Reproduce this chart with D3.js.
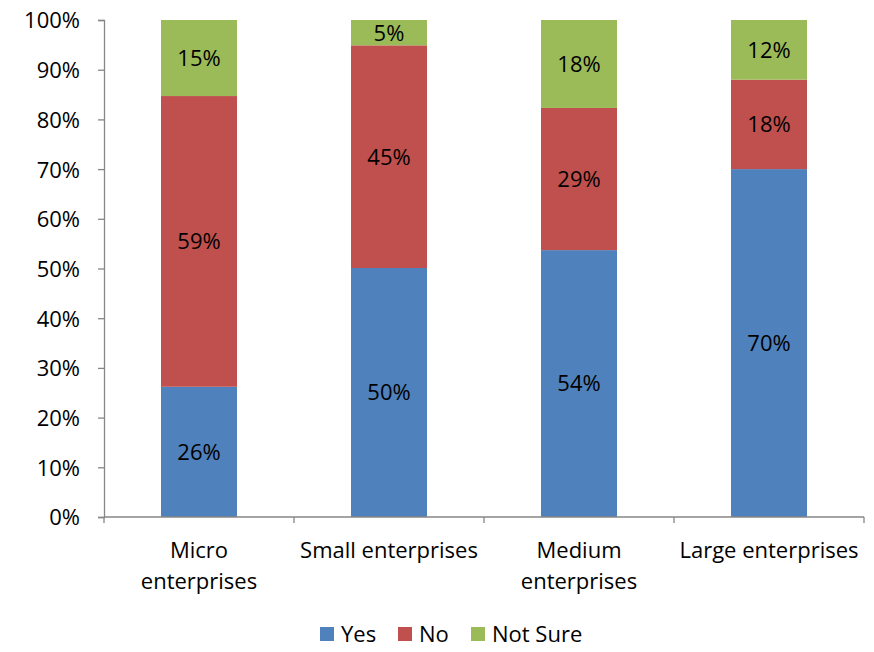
<!DOCTYPE html>
<html>
<head>
<meta charset="utf-8">
<script src="https://cdn.jsdelivr.net/npm/d3@7"></script>
<style>
  body { margin: 0; background: #fff; }
  text { font-family: "Open Sans", "Noto Sans", sans-serif; fill: #000; }
</style>
</head>
<body>
<div id="chart"></div>
<script>
var categories = ["Micro enterprises", "Small enterprises", "Medium enterprises", "Large enterprises"];
var catLines = [["Micro", "enterprises"], ["Small enterprises"], ["Medium", "enterprises"], ["Large enterprises"]];
var seriesKeys = ["Yes", "No", "Not Sure"];
var yesVals = [26.2, 50.1, 53.7, 70.0];
var noVals = [58.5, 44.8, 28.6, 18.0];
var notSureVals = [15.3, 5.1, 17.7, 12.0];
var yTicks = [0, 10, 20, 30, 40, 50, 60, 70, 80, 90, 100];

var color = d3.scaleOrdinal()
    .domain(seriesKeys)
    .range(["#4f81bd", "#c0504d", "#9bbb59"]);

var width = 874, height = 652;
var margin = {left: 104, right: 10, top: 20, bottom: 135};
var fs = "22px";

var rows = categories.map(function(c, i) {
    return {cat: c, "Yes": yesVals[i], "No": noVals[i], "Not Sure": notSureVals[i]};
});

var svg = d3.select("#chart").append("svg")
    .attr("width", width).attr("height", height);

var x = d3.scaleBand()
    .domain(categories)
    .range([margin.left, width - margin.right])
    .paddingInner(0.6)
    .paddingOuter(0.3);

var y = d3.scaleLinear()
    .domain([0, 100])
    .range([height - margin.bottom, margin.top]);

var stack = d3.stack().keys(seriesKeys)(rows);

// bars
var groups = svg.selectAll("g.series")
    .data(stack)
    .enter().append("g")
    .attr("class", "series")
    .attr("fill", function(d) { return color(d.key); });

groups.selectAll("rect")
    .data(function(d) { return d; })
    .enter().append("rect")
    .attr("x", function(d) { return x(d.data.cat); })
    .attr("y", function(d) { return y(d[1]); })
    .attr("width", x.bandwidth())
    .attr("height", function(d) { return y(d[0]) - y(d[1]); });

// labels
groups.selectAll("text")
    .data(function(d) { return d; })
    .enter().append("text")
    .attr("x", function(d) { return x(d.data.cat) + x.bandwidth() / 2; })
    .attr("y", function(d) { return (y(d[0]) + y(d[1])) / 2; })
    .attr("text-anchor", "middle")
    .attr("dy", "0.36em")
    .style("font-size", fs)
    .text(function(d) { return Math.round(d[1] - d[0]) + "%"; });

// y axis
var yAxis = svg.append("g")
    .attr("transform", "translate(" + margin.left + ",0)")
    .call(d3.axisLeft(y).tickValues(yTicks).tickSize(6).tickPadding(18)
        .tickFormat(function(d) { return d + "%"; }));
yAxis.selectAll("text").style("font-size", fs).attr("dy", "0.36em");

// x axis
var xBase = height - margin.bottom;
var xAxis = svg.append("g");
xAxis.append("line")
    .attr("x1", margin.left).attr("x2", width - margin.right)
    .attr("y1", xBase).attr("y2", xBase);
var bounds = categories.map(function(c) { return x(c) - x.step() * x.paddingInner() / 2; });
bounds.push(width - margin.right);
xAxis.selectAll("line.tick")
    .data(bounds)
    .enter().append("line")
    .attr("class", "tick")
    .attr("x1", function(d) { return d; }).attr("x2", function(d) { return d; })
    .attr("y1", xBase).attr("y2", xBase + 6);

svg.selectAll(".domain, .tick line, line").attr("stroke", "#868686").attr("stroke-width", 1.3);

var catText = svg.selectAll("text.cat")
    .data(categories)
    .enter().append("text")
    .attr("class", "cat")
    .attr("text-anchor", "middle")
    .style("font-size", fs)
    .attr("x", function(d) { return x(d) + x.bandwidth() / 2; })
    .attr("y", xBase + 41);
catText.each(function(d, i) {
    var t = d3.select(this);
    catLines[i].forEach(function(l, j) {
        t.append("tspan")
            .attr("x", x(d) + x.bandwidth() / 2)
            .attr("dy", j === 0 ? 0 : 31)
            .text(l);
    });
});

// legend
var legendX = [320, 398, 471];
var legend = svg.selectAll("g.legend")
    .data(seriesKeys)
    .enter().append("g")
    .attr("class", "legend")
    .attr("transform", function(d, i) { return "translate(" + legendX[i] + ",627)"; });
legend.append("rect")
    .attr("width", 14).attr("height", 14)
    .attr("fill", function(d) { return color(d); });
legend.append("text")
    .attr("x", 21).attr("y", 7).attr("dy", "0.36em")
    .style("font-size", fs)
    .text(function(d) { return d; });
</script>
</body>
</html>
